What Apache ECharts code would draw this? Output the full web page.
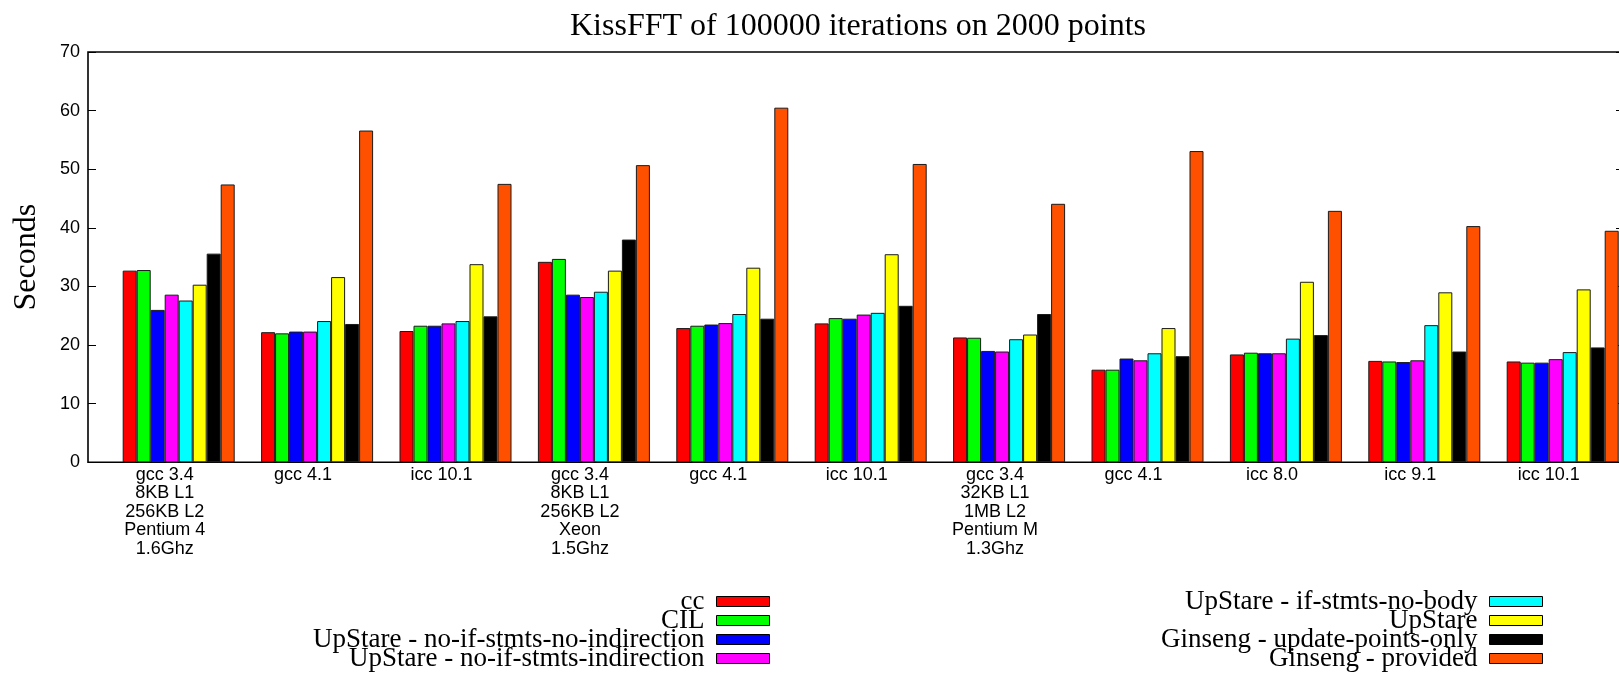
<!DOCTYPE html>
<html><head><meta charset="utf-8">
<script src="https://cdn.jsdelivr.net/npm/echarts@6/dist/echarts.min.js"></script>
<style>html,body{margin:0;padding:0;background:#fff}#c{width:1619px;height:673px}</style>
</head><body><div id="c"></div>
<script>
const categories = [
  'gcc 3.4\n8KB L1\n256KB L2\nPentium 4\n1.6Ghz', 'gcc 4.1', 'icc 10.1',
  'gcc 3.4\n8KB L1\n256KB L2\nXeon\n1.5Ghz', 'gcc 4.1', 'icc 10.1',
  'gcc 3.4\n32KB L1\n1MB L2\nPentium M\n1.3Ghz', 'gcc 4.1', 'icc 8.0', 'icc 9.1', 'icc 10.1'
];
const seriesNames = [
  'cc', 'CIL', 'UpStare - no-if-stmts-no-indirection', 'UpStare - no-if-stmts-indirection',
  'UpStare - if-stmts-no-body', 'UpStare', 'Ginseng - update-points-only', 'Ginseng - provided'
];
const cc          = [32.7, 22.2, 22.4, 34.2, 22.9, 23.7, 21.3, 15.8, 18.4, 17.3, 17.2];
const cil         = [32.8, 22.0, 23.3, 34.7, 23.3, 24.6, 21.25, 15.8, 18.7, 17.2, 17.0];
const noIfNoInd   = [26.0, 22.3, 23.3, 28.6, 23.5, 24.5, 19.0, 17.7, 18.6, 17.1, 17.0];
const noIfInd     = [28.6, 22.3, 23.7, 28.2, 23.75, 25.2, 18.9, 17.4, 18.6, 17.4, 17.6];
const ifNoBody    = [27.6, 24.1, 24.1, 29.1, 25.3, 25.5, 21.0, 18.6, 21.1, 23.4, 18.8];
const upstare     = [30.3, 31.6, 33.8, 32.7, 33.2, 35.5, 21.8, 22.9, 30.8, 29.0, 29.5];
const ginsengUpd  = [35.6, 23.6, 24.9, 38.0, 24.5, 26.7, 25.3, 18.1, 21.7, 18.9, 19.6];
const ginsengProv = [47.4, 56.6, 47.5, 50.7, 60.5, 50.9, 44.1, 53.1, 42.9, 40.3, 39.5];
const yMin = 0, yMax = 70, yStep = 10;

const allValues = [cc, cil, noIfNoInd, noIfInd, ifNoBody, upstare, ginsengUpd, ginsengProv];
const colors = ['#ff0000', '#00ff00', '#0000ff', '#ff00ff', '#00ffff', '#ffff00', '#000000', '#ff5000'];

const chart = echarts.init(document.getElementById('c'), null, {renderer: 'canvas'});
const sans = 'Liberation Sans, Arial, sans-serif';
const serif = 'Liberation Serif, Times New Roman, serif';

const series = allValues.map((vals, i) => ({
  name: seriesNames[i],
  type: 'bar',
  xAxisIndex: 1,
  yAxisIndex: 2,
  data: vals,
  barWidth: 14,
  barGap: '0%',
  itemStyle: {color: colors[i], borderColor: '#1a1a1a', borderWidth: 1},
  emphasis: {disabled: true},
  animation: false
}));

const legendCommon = {
  orient: 'vertical',
  align: 'right',
  icon: 'rect',
  itemWidth: 53,
  itemHeight: 10,
  itemGap: -8,
  padding: 0,
  top: 588,
  height: 400,
  selectedMode: false,
  itemStyle: {borderColor: '#000', borderWidth: 1},
  textStyle: {fontFamily: serif, fontSize: 27, color: '#000', padding: [0, 7, 0, 0]}
};

chart.setOption({
  backgroundColor: '#fff',
  animation: false,
  title: {
    text: 'KissFFT of 100000 iterations on 2000 points',
    left: 565, top: 6,
    textStyle: {fontFamily: serif, fontSize: 32, fontWeight: 'normal', color: '#000'}
  },
  legend: [
    Object.assign({}, legendCommon, {right: 849, data: seriesNames.slice(0, 4)}),
    Object.assign({}, legendCommon, {right: 76, data: seriesNames.slice(4, 8)})
  ],
  grid: [
    {left: 88, top: 52, width: 1536, bottom: 210.7, outerBoundsMode: 'none', containLabel: false,
     show: true, borderColor: '#000', borderWidth: 1.6, backgroundColor: 'transparent'},
    {left: 109.5, top: 52, width: 1522.4, bottom: 210.7, outerBoundsMode: 'none', containLabel: false}
  ],
  xAxis: [
    {gridIndex: 0, type: 'value', min: 0, max: 1, show: false},
    {gridIndex: 1, type: 'category', data: categories,
     axisLine: {show: false}, axisTick: {show: false}, splitLine: {show: false},
     axisLabel: {interval: 0, fontFamily: sans, fontSize: 18, color: '#000', lineHeight: 18.5, margin: 3, padding: [0, 28, 0, 0]}}
  ],
  yAxis: [
    {gridIndex: 0, type: 'value', min: yMin, max: yMax, interval: yStep, position: 'left',
     name: 'Seconds', nameLocation: 'middle', nameRotate: 90, nameGap: 45,
     nameTextStyle: {fontFamily: serif, fontSize: 32, color: '#000'},
     axisLine: {show: false}, splitLine: {show: false},
     axisTick: {show: true, inside: true, length: 8, lineStyle: {color: '#000', width: 1}},
     axisLabel: {fontFamily: sans, fontSize: 18, color: '#000', margin: 8}},
    {gridIndex: 0, type: 'value', min: yMin, max: yMax, interval: yStep, position: 'right',
     axisLine: {show: false}, splitLine: {show: false}, axisLabel: {show: false},
     axisTick: {show: true, inside: true, length: 8, lineStyle: {color: '#000', width: 1}}},
    {gridIndex: 1, type: 'value', min: yMin, max: yMax, interval: yStep, show: false}
  ],
  series: series
});
</script>
</body></html>
